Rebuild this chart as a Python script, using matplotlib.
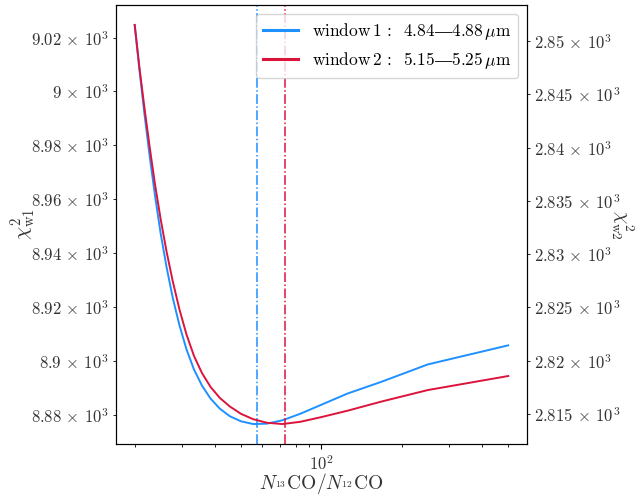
import matplotlib
matplotlib.use('Agg')
import matplotlib.pyplot as plt
from matplotlib.lines import Line2D
from matplotlib.ticker import FuncFormatter
import numpy as np

plt.rcParams['font.family'] = ['cmr10', 'DejaVu Serif']
plt.rcParams['mathtext.fontset'] = 'cm'
plt.rcParams['axes.formatter.use_mathtext'] = True
plt.rcParams['axes.unicode_minus'] = False

# isotopologue ratio grid
ratio = [20.00, 20.83, 21.74, 22.73, 23.81, 25.00, 26.32, 27.78, 29.41, 31.25,
         33.33, 35.71, 38.46, 41.67, 45.45, 50.00, 55.56, 62.50, 71.43, 83.33,
         100.0, 125.0, 166.67, 250.0, 500.0]

# chi^2 for window 1 (4.84-4.88 um)
chi2_w1 = [9024.70, 9008.04, 8991.74, 8976.19, 8961.37, 8947.30, 8934.70, 8923.22,
           8913.22, 8904.33, 8896.93, 8891.00, 8886.19, 8882.48, 8879.70, 8877.85,
           8876.85, 8877.00, 8878.22, 8880.63, 8883.96, 8888.04, 8892.30, 8898.78,
           8905.81]

# chi^2 for window 2 (5.15-5.25 um)
chi2_w2 = [2851.56, 2847.54, 2843.80, 2840.14, 2836.59, 2833.31, 2830.23, 2827.42,
           2824.82, 2822.47, 2820.47, 2818.87, 2817.57, 2816.54, 2815.74, 2815.06,
           2814.56, 2814.23, 2814.11, 2814.32, 2814.76, 2815.35, 2816.19, 2817.28,
           2818.59]

# best-fit ratios
best_w1 = 57.3
best_w2 = 73.3

C1 = '#1E90FF'
C2 = '#DC143C'
TXT = '#333333'


def sci_label(v, pos):
    e = int(np.floor(np.log10(v)))
    c = round(v / 10**e, 6)
    return rf'$\mathdefault{{{c:g}}}\,\times\,\mathdefault{{10^{{{e}}}}}$'


fig = plt.figure(figsize=(6.41, 5.0), dpi=100)
ax = fig.add_axes([0.181, 0.112, 0.641, 0.878])
ax2 = ax.twinx()

ax.plot(ratio, chi2_w1, color=C1, lw=1.4)
ax2.plot(ratio, chi2_w2, color=C2, lw=1.4)
ax.axvline(best_w1, color=C1, ls='-.', lw=1.1)
ax2.axvline(best_w2, color=C2, ls='-.', lw=1.1)

ax.set_xscale('log')
ax.set_yscale('log')
ax2.set_yscale('log')
ax.yaxis.set_minor_formatter(FuncFormatter(sci_label))
ax2.yaxis.set_minor_formatter(FuncFormatter(sci_label))

for a in (ax, ax2):
    a.tick_params(which='both', labelsize=12, labelcolor=TXT)

ax.set_xlabel(r'$N_{^{13}}\mathrm{CO}/N_{^{12}}\mathrm{CO}$', fontsize=14, color=TXT)
ax.xaxis.set_label_coords(0.5, -0.062)
ax.set_ylabel(r'$\chi^2_{\mathrm{w1}}$', fontsize=15, color=TXT)
ax.yaxis.set_label_coords(-0.19, 0.5)
ax2.set_ylabel(r'$\chi^2_{\mathrm{w2}}$', fontsize=14, color=TXT,
               rotation=270, va='bottom')
ax2.yaxis.set_label_coords(1.2, 0.5)

handles = [Line2D([], [], color=C1, lw=2.2),
           Line2D([], [], color=C2, lw=2.2)]
labels = [r'window$\,$1 :  4.84$\mathrm{—}$4.88$\,\mu$m',
          r'window$\,$2 :  5.15$\mathrm{—}$5.25$\,\mu$m']
ax2.legend(handles, labels, loc='upper right', fontsize=12.5)

fig.savefig('out.png', dpi=100)
